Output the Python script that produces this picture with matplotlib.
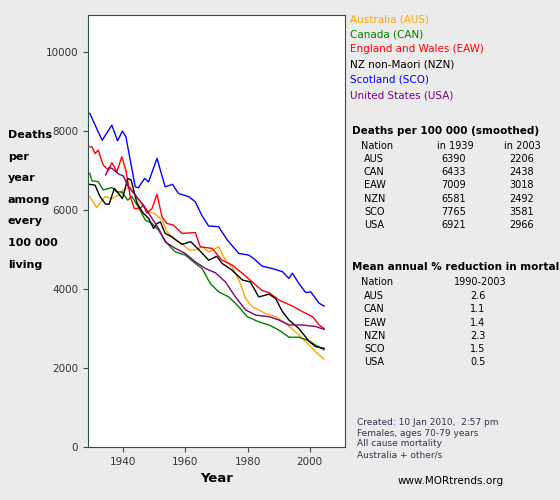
import matplotlib.pyplot as plt

# values (deaths per 100 000, females 70-79)
sco_yr = [1929.3, 1932, 1933.3, 1936.4, 1938.2, 1939.8, 1940.9, 1943.9, 1944.9, 1946.9, 1948.2, 1950.9, 1953.5, 1955.9, 1957.8, 1961.1, 1963.2, 1965.4, 1967.5, 1970.7, 1973.5, 1977.2, 1980.4, 1982, 1984.7, 1987.9, 1991.2, 1993.3, 1994.4, 1996.5, 1998.7, 2000.3, 2003, 2004.6]
sco = [8450, 7980, 7770, 8150, 7755, 8000, 7860, 6590, 6565, 6800, 6715, 7310, 6590, 6650, 6420, 6340, 6210, 5850, 5595, 5580, 5240, 4900, 4860, 4770, 4580, 4520, 4440, 4270, 4400, 4140, 3910, 3930, 3640, 3570]

eaw_yr = [1929.3, 1930, 1931, 1932, 1933.6, 1935.3, 1936.4, 1938, 1939.6, 1940.9, 1942.3, 1943.6, 1945.5, 1946.5, 1947.6, 1949.3, 1950.9, 1952.5, 1954.1, 1956.2, 1958.9, 1963.2, 1964.8, 1968.6, 1971.8, 1975, 1978.3, 1981.5, 1984.7, 1986.9, 1990.1, 1994.4, 1997.6, 2000.9, 2003, 2004.6]
eaw = [7600, 7600, 7430, 7520, 7140, 7010, 7200, 6970, 7350, 7010, 6340, 6040, 6040, 6130, 5920, 6040, 6400, 5830, 5660, 5620, 5410, 5430, 5070, 5030, 4730, 4610, 4400, 4180, 3960, 3910, 3720, 3570, 3430, 3300, 3090, 3000]

usa_yr = [1934.4, 1935.5, 1936.5, 1938.5, 1940.1, 1941.7, 1943.9, 1946.5, 1949.3, 1951.4, 1953.5, 1956.8, 1960, 1963.2, 1966.5, 1969.7, 1972.9, 1976.1, 1979.4, 1982.6, 1986.9, 1990.1, 1993.3, 1997.6, 2001.9, 2004.6]
usa = [6890, 7080, 7050, 6920, 6860, 6590, 6380, 6130, 5790, 5535, 5200, 5030, 4900, 4690, 4520, 4410, 4180, 3800, 3470, 3340, 3300, 3215, 3090, 3090, 3050, 2980]

can_yr = [1929.3, 1930, 1932, 1933.6, 1936.4, 1938, 1939.6, 1941.5, 1942.8, 1944.9, 1947.1, 1949.3, 1951.4, 1954.1, 1956.8, 1960, 1963.2, 1965.4, 1968, 1970.7, 1974, 1977.2, 1979.9, 1983.6, 1986.9, 1990.1, 1993.3, 1996.5, 1999.8, 2001.9, 2004.6]
can = [6930, 6740, 6720, 6510, 6570, 6460, 6460, 6250, 6350, 6080, 5750, 5660, 5490, 5160, 4940, 4860, 4650, 4520, 4140, 3930, 3800, 3550, 3300, 3170, 3090, 2960, 2780, 2780, 2690, 2580, 2460]

aus_yr = [1929.3, 1931.5, 1934.2, 1936.4, 1938.5, 1940.1, 1942.3, 1943.9, 1946, 1948.2, 1950.3, 1952.5, 1954.1, 1956.8, 1958.9, 1961.1, 1963.2, 1965.4, 1967.5, 1969.7, 1970.7, 1972.9, 1975, 1977.2, 1979.4, 1981.5, 1983.6, 1985.8, 1989, 1992.2, 1995.4, 1998.7, 2001.9, 2004.6]
aus = [6340, 6060, 6340, 6290, 6380, 6510, 6590, 6380, 6130, 5960, 5900, 5750, 5450, 5240, 5160, 4990, 4990, 5070, 4940, 5030, 5070, 4730, 4560, 4230, 3760, 3550, 3470, 3380, 3300, 3130, 2920, 2670, 2410, 2220]

nzn_yr = [1929.3, 1931, 1932.6, 1934.4, 1935.5, 1937.2, 1938.5, 1939.8, 1941.5, 1942.6, 1944.5, 1946.5, 1948.2, 1949.8, 1950.9, 1952, 1953.5, 1955.7, 1958.9, 1961.7, 1964.3, 1967.5, 1970.1, 1971.8, 1975, 1978.3, 1980.9, 1983.6, 1986.9, 1989, 1991.2, 1993.3, 1996.5, 1999.8, 2001.9, 2004.6]
nzn = [6650, 6630, 6340, 6150, 6150, 6550, 6420, 6290, 6800, 6760, 6170, 5920, 5790, 5535, 5660, 5700, 5410, 5320, 5130, 5200, 5000, 4730, 4830, 4650, 4480, 4230, 4180, 3800, 3870, 3760, 3430, 3215, 3000, 2670, 2540, 2500]

nations = ['AUS', 'CAN', 'EAW', 'NZN', 'SCO', 'USA']
names = ['Australia (AUS)', 'Canada (CAN)', 'England and Wales (EAW)',
         'NZ non-Maori (NZN)', 'Scotland (SCO)', 'United States (USA)']
colors = ['orange', 'green', 'red', 'black', 'blue', 'purple']
d1939 = [6390, 6433, 7009, 6581, 7765, 6921]
d2003 = [2206, 2438, 3018, 2492, 3581, 2966]
reduction = ['2.6', '1.1', '1.4', '2.3', '1.5', '0.5']

series = [(aus_yr, aus), (can_yr, can), (eaw_yr, eaw), (nzn_yr, nzn), (sco_yr, sco), (usa_yr, usa)]

bg = '#ebebeb'
fig = plt.figure(figsize=(5.6, 5.0), dpi=100, facecolor=bg)
ax = fig.add_axes([0.157, 0.106, 0.459, 0.864])
ax.set_facecolor('white')
for (x, y), c in zip(series, colors):
    ax.plot(x, y, color=c, lw=1)
ax.set_xlim(1928.7, 2011.3)
ax.set_ylim(0, 10940)
ax.set_xticks([1940, 1960, 1980, 2000])
ax.set_yticks(range(0, 10001, 2000))
ax.tick_params(labelsize=7.5, color='#2f4f4f', labelcolor='#333333')
for s in ax.spines.values():
    s.set_color('#2f4f4f')
ax.set_xlabel('Year', fontsize=9.5, fontweight='bold')

fig.text(0.014, 0.74, 'Deaths\nper\nyear\namong\nevery\n100 000\nliving', fontsize=8,
         fontweight='bold', va='top', linespacing=2.45)

# legend as coloured text
for i, (n, c) in enumerate(zip(names, colors)):
    fig.text(0.625, 0.962 - i * 0.0305, n, color=c, fontsize=7.5, va='center')

fig.text(0.628, 0.738, 'Deaths per 100 000 (smoothed)', fontsize=7.5, fontweight='bold', va='center')
fig.text(0.645, 0.708, 'Nation', fontsize=7, va='center')
fig.text(0.78, 0.708, 'in 1939', fontsize=7, va='center')
fig.text(0.9, 0.708, 'in 2003', fontsize=7, va='center')
for i, n in enumerate(nations):
    yy = 0.682 - i * 0.0265
    fig.text(0.65, yy, n, fontsize=7, va='center')
    fig.text(0.788, yy, str(d1939[i]), fontsize=7, va='center')
    fig.text(0.91, yy, str(d2003[i]), fontsize=7, va='center')

fig.text(0.628, 0.466, 'Mean annual % reduction in mortality', fontsize=7.5, fontweight='bold', va='center')
fig.text(0.645, 0.436, 'Nation', fontsize=7, va='center')
fig.text(0.81, 0.436, '1990-2003', fontsize=7, va='center')
for i, n in enumerate(nations):
    yy = 0.408 - i * 0.0265
    fig.text(0.65, yy, n, fontsize=7, va='center')
    fig.text(0.84, yy, reduction[i], fontsize=7, va='center')

fig.text(0.638, 0.164, 'Created: 10 Jan 2010,  2:57 pm\nFemales, ages 70-79 years\nAll cause mortality\nAustralia + other/s',
         fontsize=6.5, color='#333355', va='top', linespacing=1.25)
fig.text(0.71, 0.038, 'www.MORtrends.org', fontsize=7.5, va='center')

fig.savefig('out.png', dpi=100, facecolor=bg)
